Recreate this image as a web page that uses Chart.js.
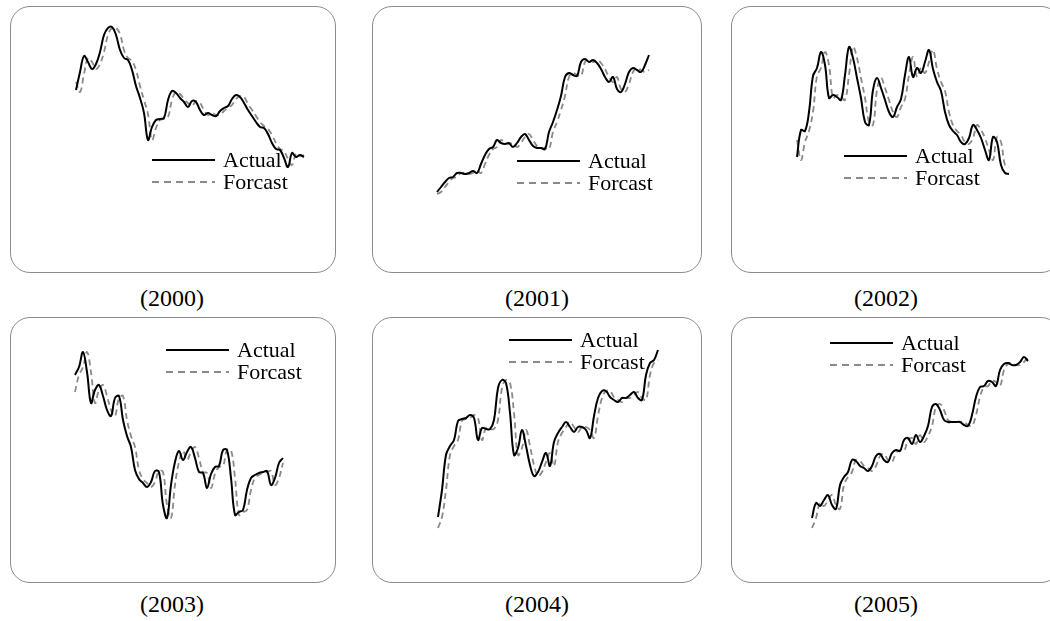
<!DOCTYPE html>
<html>
<head>
<meta charset="utf-8">
<title>Actual vs Forcast</title>
<script src="https://cdn.jsdelivr.net/npm/chart.js"></script>
<style>
  body { margin: 0; background: #fff; width: 1050px; height: 621px; overflow: hidden; position: relative; font-family: "Liberation Serif", "Times New Roman", serif; }
  .panel { position: absolute; border: 1px solid #8c8c8c; border-radius: 20px; box-sizing: border-box; }
  .panel canvas { position: absolute; left: 0; top: 0; }
  .cap { position: absolute; width: 200px; text-align: center; font-size: 24px; line-height: 24px; color: #000; }
</style>
</head>
<body>
<script>
// series, one value per time step
const years = ['2000', '2001', '2002', '2003', '2004', '2005'];
const seriesNames = ['Actual', 'Forcast'];

const actual2000 = [210,228,244,238,231,236,248,265,272,273,265,250,242,240,230,214,202,187,160,173,180,181,182,200,209,207,202,198,193,199,198,190,185,187,185,184,189,192,194,201,205,203,197,190,184,178,173,172,166,157,151,150,142,133,147,143,145,143];
const forcast2000 = [218,208,226,242,238,231,236,248,265,272,272,266,250,242,239,230,214,200,186,160,172,180,181,183,200,208,206,201,197,194,199,197,190,185,187,185,185,189,192,195,201,204,203,196,190,184,178,174,171,165,157,151,149,141,135,146,144,145];

const actual2001 = [108,113,118,122,123,127,127,126,127,129,127,136,145,151,153,160,157,156,157,153,157,163,166,160,154,152,152,151,168,178,190,204,223,227,225,224,238,241,238,240,237,231,223,218,223,211,208,216,228,232,230,228,235,245];
const forcast2001 = [106,108,113,118,122,123,127,127,126,127,129,127,136,145,151,153,160,157,156,157,153,157,163,166,160,154,152,152,151,168,178,190,204,223,227,225,224,238,241,238,240,237,231,223,218,223,211,208,216,228,232,230,228,230];

const actual2002 = [143,170,169,188,224,232,248,235,202,205,203,200,225,253,242,222,202,178,175,210,222,212,200,188,183,193,201,225,243,223,232,227,238,250,231,218,209,188,175,169,165,158,156,162,175,170,162,150,140,163,158,135,127,126];
const forcast2002 = [160,140,158,169,188,224,232,248,235,202,205,203,200,225,253,242,222,202,178,175,210,222,212,200,188,183,193,201,225,243,223,232,227,238,250,231,218,209,188,175,169,165,158,156,162,175,170,162,150,140,163,158,135,133];

const actual2003 = [225,233,248,228,197,210,215,204,190,184,202,204,180,164,153,130,121,117,113,118,129,128,95,82,115,138,149,140,148,153,142,128,127,112,126,133,134,150,150,122,85,88,90,110,122,125,127,128,129,115,122,137,142];
const forcast2003 = [208,225,233,248,228,197,210,215,204,190,184,202,204,180,164,153,130,121,117,113,118,129,128,95,82,115,138,149,140,148,153,142,128,127,112,126,133,134,150,150,122,85,88,90,110,122,125,127,128,129,115,122,137];

const actual2004 = [83,110,145,154,160,179,181,182,185,182,160,172,171,171,180,212,220,217,187,145,152,170,154,135,124,128,138,147,134,158,167,173,178,173,168,173,173,170,162,184,202,209,209,203,200,198,202,202,205,208,202,200,225,237,240,250];
const forcast2004 = [72,83,110,145,154,160,179,181,182,185,182,160,172,171,171,180,212,220,217,187,145,152,170,154,135,124,128,138,147,134,158,167,173,178,173,168,173,173,170,162,184,202,209,209,203,200,198,202,202,205,208,202,200,225,237,240];

const actual2005 = [82,97,94,100,105,95,91,115,123,128,140,139,134,132,129,134,144,146,140,138,147,150,149,160,162,156,165,158,164,174,193,196,190,180,178,178,178,178,175,174,185,203,213,214,219,218,214,230,236,237,235,235,238,243,239];
const forcast2005 = [72,82,97,94,100,105,95,91,115,123,128,140,139,134,132,129,134,144,146,140,138,147,150,149,160,162,156,165,158,164,174,193,196,190,180,178,178,178,178,175,174,185,203,213,214,219,218,214,230,236,237,235,235,238,243];

const actualByYear = [actual2000, actual2001, actual2002, actual2003, actual2004, actual2005];
const forcastByYear = [forcast2000, forcast2001, forcast2002, forcast2003, forcast2004, forcast2005];

// layout of each framed panel (page pixels)
const panels = [
  { left: 10,  top: 6,   w: 326, h: 267, padL: 65, padR: 31, yMin: 28, yMax: 293, lx: 141, ly: 153, capX: 172, capY: 286 },
  { left: 372, top: 6,   w: 330, h: 267, padL: 64, padR: 52, yMin: 28, yMax: 293, lx: 144, ly: 154, capX: 537, capY: 286 },
  { left: 731, top: 6,   w: 330, h: 267, padL: 65, padR: 51, yMin: 28, yMax: 293, lx: 112, ly: 149, capX: 886, capY: 286 },
  { left: 10,  top: 317, w: 326, h: 266, padL: 64, padR: 52, yMin: 18, yMax: 282, lx: 155, ly: 32,  capX: 172, capY: 592 },
  { left: 372, top: 317, w: 330, h: 266, padL: 65, padR: 43, yMin: 18, yMax: 282, lx: 136, ly: 22,  capX: 537, capY: 592 },
  { left: 731, top: 317, w: 330, h: 266, padL: 80, padR: 32, yMin: 18, yMax: 282, lx: 98,  ly: 25,  capX: 886, capY: 592 }
];

// legend drawn inside the frame, under the lines
const insideLegend = {
  id: 'insideLegend',
  beforeDatasetsDraw(chart, args, opts) {
    const ctx = chart.ctx;
    ctx.save();
    ctx.font = '22px "Liberation Serif"';
    ctx.textBaseline = 'middle';
    ctx.fillStyle = '#000';
    chart.data.datasets.forEach((ds, i) => {
      const y = opts.y + i * 22;
      ctx.beginPath();
      ctx.setLineDash(i === 0 ? [] : [7, 5]);
      ctx.strokeStyle = ds.borderColor;
      ctx.lineWidth = ds.borderWidth;
      ctx.moveTo(opts.x, y);
      ctx.lineTo(opts.x + 63, y);
      ctx.stroke();
      ctx.fillText(ds.label, opts.x + 71, y + 1);
    });
    ctx.restore();
  }
};

panels.forEach((p, k) => {
  const box = document.createElement('div');
  box.className = 'panel';
  box.style.left = p.left + 'px';
  box.style.top = p.top + 'px';
  box.style.width = p.w + 'px';
  box.style.height = p.h + 'px';
  const canvas = document.createElement('canvas');
  canvas.width = p.w - 2;
  canvas.height = p.h - 2;
  box.appendChild(canvas);
  document.body.appendChild(box);

  const cap = document.createElement('div');
  cap.className = 'cap';
  cap.style.left = (p.capX - 100) + 'px';
  cap.style.top = p.capY + 'px';
  cap.textContent = '(' + years[k] + ')';
  document.body.appendChild(cap);

  const actual = actualByYear[k];
  const forcast = forcastByYear[k];

  new Chart(canvas.getContext('2d'), {
    type: 'line',
    data: {
      labels: actual.map((_, i) => i),
      datasets: [
        { label: seriesNames[0], data: actual, borderColor: '#000', borderWidth: 2, pointRadius: 0, tension: 0.4, fill: false },
        { label: seriesNames[1], data: forcast, borderColor: '#8a8a8a', borderWidth: 1.8, borderDash: [6, 4], pointRadius: 0, tension: 0.4, fill: false }
      ]
    },
    options: {
      responsive: false,
      animation: false,
      events: [],
      layout: { padding: { left: p.padL, right: p.padR, top: 0, bottom: 0 } },
      scales: {
        x: { display: false, offset: false },
        y: { display: false, min: p.yMin, max: p.yMax }
      },
      plugins: {
        legend: { display: false },
        tooltip: { enabled: false },
        insideLegend: { x: p.lx, y: p.ly }
      }
    },
    plugins: [insideLegend]
  });
});
</script>
</body>
</html>
